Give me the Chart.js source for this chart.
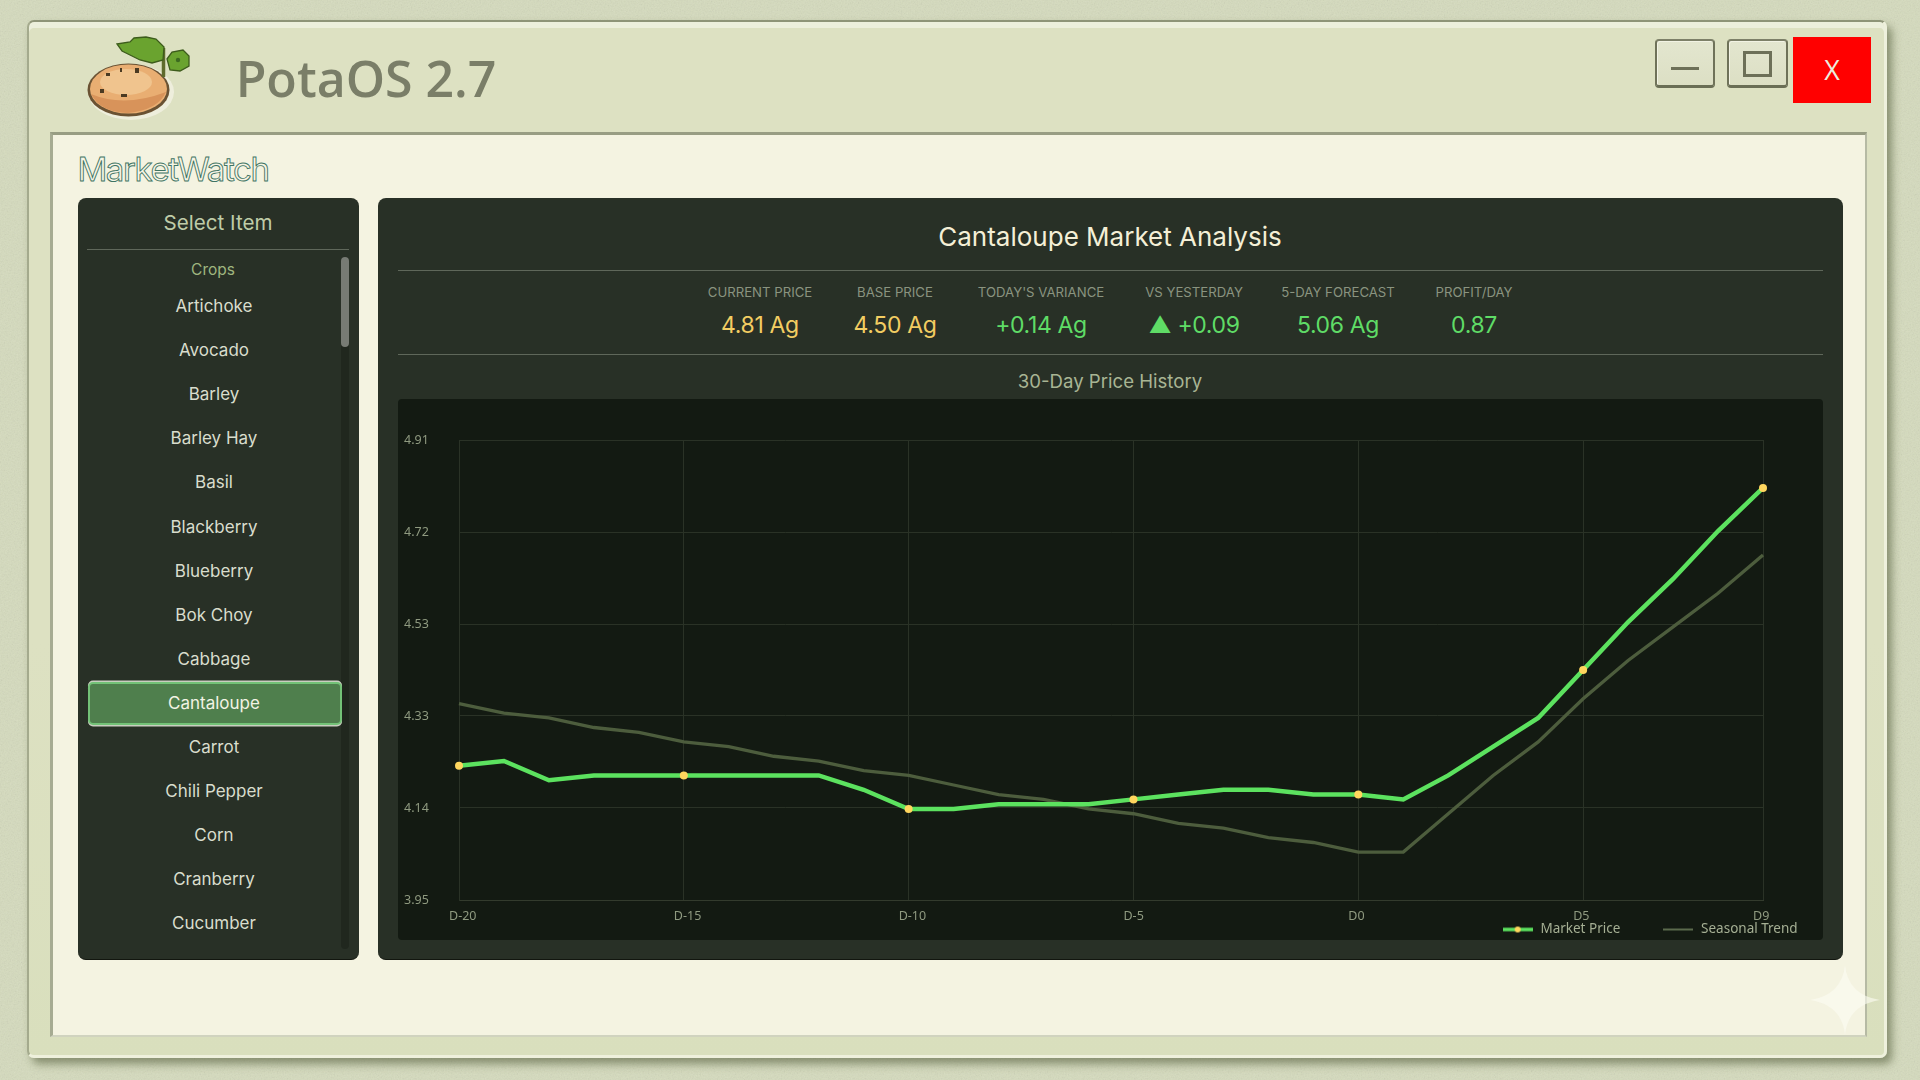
<!DOCTYPE html>
<html>
<head>
<meta charset="utf-8">
<script src="https://cdn.jsdelivr.net/npm/chart.js@4/dist/chart.umd.min.js"></script>
<style>
html,body{margin:0;padding:0;width:1920px;height:1080px;overflow:hidden;background:#d5dbbd;font-family:Inter,"Noto Sans",sans-serif}
#noise{position:absolute;left:0;top:0;width:1920px;height:1080px;opacity:.2}
.box{position:absolute;box-sizing:border-box}
.t{position:absolute;transform:translate(-50%,-50%);white-space:nowrap;line-height:1}
#win{left:27px;top:20px;width:1860px;height:1038px;border-radius:7px;background:linear-gradient(180deg,#dde1c2 0,#dde1c2 60%,#d9dfbd 100%);border-top:2px solid #8e9478;border-left:2px solid #a4aa8d;border-right:3px solid #eef0dc;border-bottom:3px solid #eef0dc;box-shadow:5px 6px 8px rgba(95,105,70,.65),inset 0 6px 0 #ecefdc}
#inner{left:50px;top:132px;width:1817px;height:905px;background:#f4f3e1;border-top:3px solid #989d83;border-left:3px solid #a6ab92;border-right:2px solid #b6baa4;border-bottom:2px solid #d0d3bf}
.panel{background:#283026;border-radius:8px;border-bottom:1px solid #12160f}
.rule{position:absolute;height:1px;background:#5f675a}
.btn{background:linear-gradient(180deg,#e3e6cf,#dcdfc4);border:2px solid #6f7259;border-top-color:#7d8068;border-bottom:3px solid #6a6e55;border-radius:4px;box-shadow:inset 1px 1px 0 #f2f3e4}
.item{font-size:17px;color:#d9ddcd}
.lab{font-size:13.2px;color:#8a9480}
.val{font-size:23px;letter-spacing:-.35px}
</style>
</head>
<body>
<svg id="noise" xmlns="http://www.w3.org/2000/svg"><filter id="n"><feTurbulence type="fractalNoise" baseFrequency="0.7" numOctaves="3"/><feColorMatrix type="saturate" values="0"/></filter><rect width="100%" height="100%" filter="url(#n)"/></svg>
<div class="box" id="win"></div>
<div class="box" id="inner"></div>

<svg class="box" style="left:80px;top:30px" width="120" height="100" viewBox="0 0 120 100">
  <ellipse cx="51" cy="62" rx="43" ry="28" fill="#eeeedc"/>
  <ellipse cx="48.5" cy="60" rx="41" ry="26.5" fill="#6a5233"/>
  <ellipse cx="48.5" cy="59" rx="38.5" ry="24.5" fill="#e9ae72"/>
  <path d="M11 64 Q44 78 86 62 Q78 80 48 83 Q20 82 11 64Z" fill="#d8935a"/>
  <ellipse cx="46" cy="52" rx="26" ry="13" fill="#f0c48e"/>
  <rect x="26" y="43" width="4" height="3" fill="#4b3a22"/><rect x="40" y="38" width="2" height="4" fill="#4b3a22"/><rect x="55" y="38" width="4" height="5" fill="#4b3a22"/><rect x="20" y="59" width="4" height="4" fill="#4b3a22"/><rect x="41" y="64" width="6" height="3" fill="#4b3a22"/>
  <path d="M83.5 18 L83.5 47" stroke="#5e6a2c" stroke-width="3.5" fill="none"/>
  <path d="M37 14 L50 12 L54 8 L66 7 L76 9 L84 17 L83 30 L72 33 L60 30 L50 25 L42 21Z" fill="#6aa32f" stroke="#3d5c1c" stroke-width="1.3"/>
  <path d="M87 29 L92 22 L103 20 L109 26 L109 36 L100 41 L90 40Z" fill="#6aa32f" stroke="#3d5c1c" stroke-width="1.3"/>
  <circle cx="98" cy="30" r="2.2" fill="#3d6a20"/>
</svg>

<div class="t" style="left:366px;top:78px;font:600 50px 'Open Sans',sans-serif;color:#7a7e68">PotaOS 2.7</div>

<div class="box btn" style="left:1655px;top:39px;width:60px;height:49px"></div>
<div class="box" style="left:1671px;top:67px;width:28px;height:3px;background:#6d7058"></div>
<div class="box btn" style="left:1727px;top:39px;width:61px;height:49px"></div>
<div class="box" style="left:1743px;top:51px;width:29px;height:26px;border:3px solid #6d7058"></div>
<div class="box" style="left:1793px;top:37px;width:78px;height:66px;background:#ff0000"></div>
<div class="t" style="left:1832px;top:69px;font:400 27px 'Open Sans',sans-serif;color:#ececdf">X</div>

<div class="t" style="left:173px;top:169px;font:400 33px Inter,sans-serif;color:#f6f5e6;-webkit-text-stroke:.9px #3f7463;letter-spacing:-1.4px">MarketWatch</div>

<div class="box panel" style="left:78px;top:198px;width:281px;height:762px"></div>
<div class="t" style="left:218px;top:223px;font-size:20.6px;color:#bfcca8">Select Item</div>
<div class="rule" style="left:87px;top:249px;width:262px"></div>
<div class="t" style="left:213px;top:270px;font-size:15.5px;color:#9fb67f">Crops</div>
<div class="box" style="left:341px;top:257px;width:8px;height:692px;background:#20271e;border-radius:4px"></div>
<div class="box" style="left:341px;top:257px;width:8px;height:90px;background:#777b74;border-radius:4px"></div>
<div class="box" style="left:88px;top:682px;width:254px;height:43px;background:#4f7f4d;border:2px solid #73c277;border-radius:5px;box-shadow:0 -1.5px 0 #c9cec0,0 1.5px 0 #c9cec0"></div>
<div id="items"></div>

<div class="box panel" style="left:378px;top:198px;width:1465px;height:762px"></div>
<div class="t" style="left:1110px;top:237px;font-size:26px;color:#f4efd6">Cantaloupe Market Analysis</div>
<div class="rule" style="left:398px;top:270px;width:1425px"></div>
<div id="stats"></div>
<div class="rule" style="left:398px;top:354px;width:1425px"></div>
<div class="t" style="left:1110px;top:381px;font-size:18.6px;color:#a8b594">30-Day Price History</div>

<div class="box" style="left:398px;top:399px;width:1425px;height:541px;background:#131a12;border-radius:4px">
  <canvas id="c" width="1425" height="541" style="display:block;width:1425px;height:541px"></canvas>
</div>

<svg class="box" style="left:1810px;top:965px" width="70" height="70" viewBox="0 0 70 70"><path d="M35 0 Q38 30 70 35 Q38 40 35 70 Q32 40 0 35 Q32 30 35 0Z" fill="#fbfbf2" opacity=".62"/></svg>

<script>
const crops = ["Artichoke","Avocado","Barley","Barley Hay","Basil","Blackberry","Blueberry","Bok Choy","Cabbage","Cantaloupe","Carrot","Chili Pepper","Corn","Cranberry","Cucumber"];
const statLabels = ["CURRENT PRICE","BASE PRICE","TODAY'S VARIANCE","VS YESTERDAY","5-DAY FORECAST","PROFIT/DAY"];
const statValues = ["4.81 Ag","4.50 Ag","+0.14 Ag","▲ +0.09","5.06 Ag","0.87"];
const statColors = ["#f2cd62","#f2cd62","#5fdc66","#5fdc66","#5fdc66","#5fdc66"];
const statCenters = [760,895,1041,1194,1338,1474];

const days = ["D-20","D-19","D-18","D-17","D-16","D-15","D-14","D-13","D-12","D-11","D-10","D-9","D-8","D-7","D-6","D-5","D-4","D-3","D-2","D-1","D0","D1","D2","D3","D4","D5","D6","D7","D8","D9"];
const shownDays = ["D-20","D-15","D-10","D-5","D0","D5","D9"];
const marketPrice = [4.23,4.24,4.20,4.21,4.21,4.21,4.21,4.21,4.21,4.18,4.14,4.14,4.15,4.15,4.15,4.16,4.17,4.18,4.18,4.17,4.17,4.16,4.21,4.27,4.33,4.43,4.53,4.62,4.72,4.81];
const seasonalTrend = [4.36,4.34,4.33,4.31,4.30,4.28,4.27,4.25,4.24,4.22,4.21,4.19,4.17,4.16,4.14,4.13,4.11,4.10,4.08,4.07,4.05,4.05,4.13,4.21,4.28,4.37,4.45,4.52,4.59,4.67];
const yMin = 3.95, yMax = 4.91, yStep = 0.192;

const itemsEl = document.getElementById('items');
crops.forEach((name,i)=>{
  const d=document.createElement('div');
  d.className='t item';
  d.style.left='214px';
  d.style.top=(306+44.1*i)+'px';
  if(name==='Cantaloupe') d.style.color='#f2f3e4';
  d.textContent=name;
  itemsEl.appendChild(d);
});
const statsEl=document.getElementById('stats');
statLabels.forEach((l,i)=>{
  const a=document.createElement('div');a.className='t lab';a.style.left=statCenters[i]+'px';a.style.top='293px';a.textContent=l;statsEl.appendChild(a);
  const b=document.createElement('div');b.className='t val';b.style.left=statCenters[i]+'px';b.style.top='325px';b.style.color=statColors[i];b.textContent=statValues[i];statsEl.appendChild(b);
});

const GREEN='#5ce25f', TREND='#4d5d3d', DOT='#ffd65e';
function legendSwatch(color,dot,h){
  const k=document.createElement('canvas');k.width=30;k.height=10;
  const g=k.getContext('2d');g.fillStyle=color;g.fillRect(0,5-h/2,30,h);
  if(dot){g.fillStyle=DOT;g.beginPath();g.arc(15,5,3,0,Math.PI*2);g.fill();}
  return k;
}
const swatches=[legendSwatch(GREEN,true,3.5),legendSwatch('#5b6a4c',false,2)];
const placeLegend={id:'placeLegend',
  beforeLayout(chart){
    const l=chart.legend;
    if(!l._pinned){const f=l.fit;l.fit=function(){f.call(this);this.height=19;};l._pinned=true;}
  },
  afterLayout(chart){const l=chart.legend;l.right=1441.6;l.top=481.7;}
};
const isShown=i=>shownDays.includes(days[i]);

new Chart(document.getElementById('c'),{
  type:'line',
  data:{labels:days,datasets:[
    {label:'Market Price',data:marketPrice,borderColor:GREEN,backgroundColor:GREEN,borderWidth:4.5,tension:0,order:1,
     pointRadius:c=>isShown(c.dataIndex)?4:0,pointBackgroundColor:DOT,pointBorderWidth:0},
    {label:'Seasonal Trend',data:seasonalTrend,borderColor:TREND,backgroundColor:TREND,borderWidth:3.3,tension:0,order:2,
     pointRadius:0}
  ]},
  options:{
    responsive:false,animation:false,
    layout:{padding:{left:6,top:41,right:60,bottom:0}},
    plugins:{
      title:{display:false},tooltip:{enabled:false},
      legend:{position:'bottom',align:'end',
        labels:{usePointStyle:true,pointStyleWidth:32,boxHeight:10,padding:42,color:'#a5af94',font:{family:'"Noto Sans"',size:13.5},
          generateLabels(chart){return chart.data.datasets.map((d,i)=>({text:d.label,fontColor:'#a5af94',pointStyle:swatches[i],strokeStyle:'transparent',fillStyle:'transparent',lineWidth:0,datasetIndex:i}));}}
      }
    },
    scales:{
      x:{type:'category',offset:false,
        afterBuildTicks(a){a.ticks=a.ticks.filter(t=>isShown(t.value));},
        afterFit(a){a.height=21;},
        grid:{color:'#2a3226',lineWidth:1,drawTicks:false},border:{color:'#333b2d'},
        ticks:{autoSkip:false,maxRotation:0,minRotation:0,padding:9,align:'start',labelOffset:-10,color:'#8f9a80',font:{family:'"Noto Sans"',size:12.5},
          callback(v){return days[v];}}
      },
      y:{type:'linear',min:yMin,max:yMax,
        afterFit(a){a.width=55;},
        afterBuildTicks(a){a.ticks=[0,1,2,3,4,5].map(k=>({value:yMin+k*yStep}));},
        grid:{color:'#2a3226',lineWidth:1,drawTicks:false},border:{color:'#2a3226'},
        ticks:{crossAlign:'far',color:'#8f9a80',font:{family:'"Noto Sans"',size:12.5},callback(v){return v.toFixed(2);}}
      }
    }
  },
  plugins:[placeLegend]
});
</script>
</body>
</html>
